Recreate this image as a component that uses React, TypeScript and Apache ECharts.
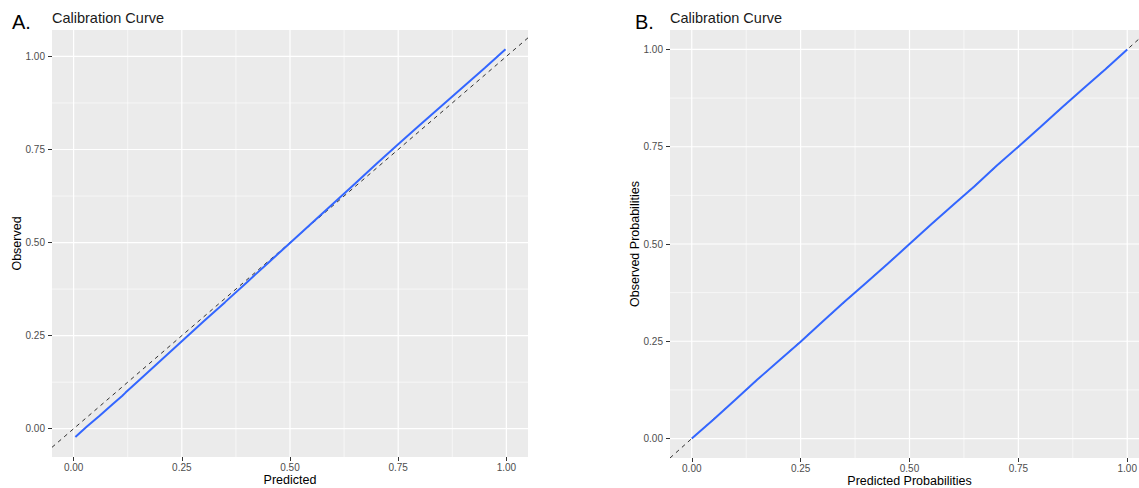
import React, { useEffect, useRef } from "react";
import * as echarts from "echarts";

// ---- data ----
const tickValues = [0, 0.25, 0.5, 0.75, 1.0];
const minorValues = [0.125, 0.375, 0.625, 0.875];

const predA = [0.004, 0.03, 0.06, 0.09, 0.112, 0.12, 0.15, 0.2, 0.25, 0.3, 0.35, 0.4, 0.45, 0.5, 0.55, 0.6, 0.65, 0.7, 0.75, 0.8, 0.85, 0.9, 0.95, 0.998];
const obsA = [-0.022, 0.005, 0.035, 0.066, 0.088, 0.097, 0.129, 0.182, 0.235, 0.288, 0.34, 0.393, 0.446, 0.499, 0.552, 0.605, 0.658, 0.712, 0.764, 0.816, 0.867, 0.918, 0.969, 1.019];

const predB = [0, 0.05, 0.1, 0.15, 0.2, 0.25, 0.3, 0.35, 0.4, 0.45, 0.5, 0.55, 0.6, 0.65, 0.7, 0.75, 0.8, 0.85, 0.9, 0.95, 1.0];
const obsB = [0, 0.049, 0.1, 0.151, 0.2, 0.249, 0.3, 0.351, 0.4, 0.449, 0.5, 0.551, 0.6, 0.649, 0.701, 0.75, 0.8, 0.851, 0.9, 0.949, 1.0];

const diagonal = [-0.05, 1.05];

const rangeXA = [-0.05, 1.05];
const rangeYA = [-0.076, 1.071];
const rangeXB = [-0.05, 1.05];
const rangeYB = [-0.05, 1.05];

const FONT = "'Liberation Sans', Arial, sans-serif";

function gridLines(gi: number, xr: number[], yr: number[]) {
  const out: any[] = [];
  const mk = (data: number[][], width: number) => ({
    type: "line",
    xAxisIndex: gi,
    yAxisIndex: gi,
    data,
    symbol: "none",
    silent: true,
    z: 1,
    lineStyle: { color: "#ffffff", width },
  });
  minorValues.forEach((v) => {
    out.push(mk([[v, yr[0]], [v, yr[1]]], 0.6));
    out.push(mk([[xr[0], v], [xr[1], v]], 0.6));
  });
  tickValues.forEach((v) => {
    out.push(mk([[v, yr[0]], [v, yr[1]]], 1.2));
    out.push(mk([[xr[0], v], [xr[1], v]], 1.2));
  });
  return out;
}

function xAxis(gi: number, r: number[], name: string, gap: number) {
  return {
    type: "value",
    gridIndex: gi,
    min: r[0],
    max: r[1],
    name,
    nameLocation: "middle",
    nameGap: gap,
    nameMoveOverlap: false,
    nameTextStyle: { color: "#000", fontSize: 12.5, fontFamily: FONT },
    axisLine: { show: false, onZero: false },
    splitLine: { show: false },
    axisTick: { show: true, customValues: tickValues, length: 4, lineStyle: { color: "#333333", width: 1 } },
    axisLabel: {
      customValues: tickValues,
      formatter: (v: number) => v.toFixed(2),
      color: "#4D4D4D",
      fontSize: 10,
      fontFamily: FONT,
      margin: 5,
    },
  };
}

function yAxis(gi: number, r: number[], name: string, gap: number) {
  return {
    type: "value",
    gridIndex: gi,
    min: r[0],
    max: r[1],
    name,
    nameLocation: "middle",
    nameGap: gap,
    nameRotate: 90,
    nameMoveOverlap: false,
    nameTextStyle: { color: "#000", fontSize: 12.5, fontFamily: FONT },
    axisLine: { show: false, onZero: false },
    splitLine: { show: false },
    axisTick: { show: true, customValues: tickValues, length: 4, lineStyle: { color: "#333333", width: 1 } },
    axisLabel: {
      customValues: tickValues,
      formatter: (v: number) => v.toFixed(2),
      color: "#4D4D4D",
      fontSize: 10,
      fontFamily: FONT,
      margin: 7,
    },
  };
}

export default function App() {
  const ref = useRef<HTMLDivElement>(null);
  useEffect(() => {
    if (!ref.current) return;
    const chart = echarts.init(ref.current, null, { renderer: "svg" });
    const zip = (a: number[], b: number[]) => a.map((v, i) => [v, b[i]]);
    chart.setOption({
      animation: false,
      backgroundColor: "#ffffff",
      grid: [
        { left: 52, top: 30, width: 476, height: 427, show: true, backgroundColor: "#EBEBEB", borderWidth: 0, containLabel: false, outerBoundsMode: "none" },
        { left: 670, top: 30, width: 479, height: 428, show: true, backgroundColor: "#EBEBEB", borderWidth: 0, containLabel: false, outerBoundsMode: "none" },
      ],
      xAxis: [xAxis(0, rangeXA, "Predicted", 16), xAxis(1, rangeXB, "Predicted Probabilities", 16.5)],
      yAxis: [yAxis(0, rangeYA, "Observed", 29), yAxis(1, rangeYB, "Observed Probabilities", 29)],
      graphic: [
        { type: "text", x: 12, y: 22, style: { text: "A.", fontSize: 20, fontFamily: FONT, fill: "#000", verticalAlign: "middle" } },
        { type: "text", x: 52, y: 18, style: { text: "Calibration Curve", fontSize: 14.5, fontFamily: FONT, fill: "#1a1a1a", verticalAlign: "middle" } },
        { type: "text", x: 635, y: 22, style: { text: "B.", fontSize: 20, fontFamily: FONT, fill: "#000", verticalAlign: "middle" } },
        { type: "text", x: 670, y: 18, style: { text: "Calibration Curve", fontSize: 14.5, fontFamily: FONT, fill: "#1a1a1a", verticalAlign: "middle" } },
      ],
      series: [
        ...gridLines(0, rangeXA, rangeYA),
        ...gridLines(1, rangeXB, rangeYB),
        {
          type: "line", xAxisIndex: 0, yAxisIndex: 0, data: zip(diagonal, diagonal), symbol: "none", silent: true, z: 2,
          lineStyle: { color: "#000", width: 0.8, type: [4, 4] },
        },
        {
          type: "line", xAxisIndex: 1, yAxisIndex: 1, data: zip(diagonal, diagonal), symbol: "none", silent: true, z: 2,
          lineStyle: { color: "#000", width: 0.8, type: [4, 4] },
        },
        {
          type: "line", xAxisIndex: 0, yAxisIndex: 0, data: zip(predA, obsA), symbol: "none", silent: true, z: 3,
          lineStyle: { color: "#3366FF", width: 2 },
        },
        {
          type: "line", xAxisIndex: 1, yAxisIndex: 1, data: zip(predB, obsB), symbol: "none", silent: true, z: 3,
          lineStyle: { color: "#3366FF", width: 2 },
        },
      ],
    });
    return () => chart.dispose();
  }, []);
  return (
    <div
      ref={ref}
      style={{ position: "absolute", left: 0, top: 0, width: 1139, height: 488, overflow: "hidden" }}
    />
  );
}
